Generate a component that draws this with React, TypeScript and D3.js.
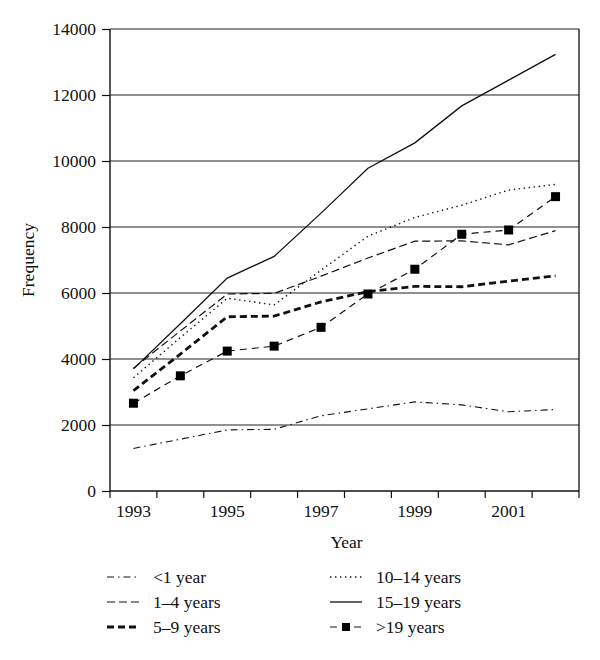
import * as d3 from 'd3';
import { useEffect, useRef } from 'react';

const years = [1993, 1994, 1995, 1996, 1997, 1998, 1999, 2000, 2001, 2002];
const yearLabels = [1993, 1995, 1997, 1999, 2001];
const yTicks = [0, 2000, 4000, 6000, 8000, 10000, 12000, 14000];

const seriesNames = ['<1 year', '1–4 years', '5–9 years', '10–14 years', '15–19 years', '>19 years'];

const lessThan1 = [1290, 1570, 1850, 1870, 2280, 2490, 2700, 2610, 2400, 2470];
const age1to4 = [3720, 4850, 5970, 5990, 6510, 7060, 7570, 7580, 7460, 7890];
const age5to9 = [3040, 4150, 5280, 5300, 5730, 6040, 6200, 6190, 6360, 6520];
const age10to14 = [3430, 4650, 5840, 5640, 6690, 7720, 8290, 8660, 9120, 9290];
const age15to19 = [3700, 5070, 6450, 7110, 8420, 9780, 10550, 11670, 12450, 13230];
const over19 = [2660, 3490, 4240, 4390, 4960, 5970, 6720, 7780, 7910, 8920];

const seriesValues = [lessThan1, age1to4, age5to9, age10to14, age15to19, over19];

// line look for each series, same order as seriesNames
const lineStyles = [
  { dash: '7,4,1.5,4', width: 1.1, marker: false },
  { dash: '8,4', width: 1.2, marker: false },
  { dash: '7,4', width: 2.8, marker: false },
  { dash: '1.4,3.6', width: 1.4, marker: false },
  { dash: null, width: 1.3, marker: false },
  { dash: '7,5', width: 1.2, marker: true },
];

const WIDTH = 600;
const HEIGHT = 660;
const FONT = '"Liberation Serif", "Times New Roman", serif';
const INK = '#111';

export default function App() {
  const svgRef = useRef<SVGSVGElement>(null);

  useEffect(() => {
    if (!svgRef.current) return;
    const svg = d3.select(svgRef.current);
    svg.selectAll('*').remove();

    const margin = { top: 29, right: 21, bottom: 169, left: 110 };
    const innerWidth = WIDTH - margin.left - margin.right;
    const innerHeight = HEIGHT - margin.top - margin.bottom;

    const g = svg.append('g').attr('transform', `translate(${margin.left},${margin.top})`);

    const xScale = d3.scaleBand<number>().domain(years).range([0, innerWidth]).padding(0);
    const xCenter = (yr: number) => (xScale(yr) ?? 0) + xScale.bandwidth() / 2;
    const yScale = d3.scaleLinear().domain([0, 14000]).range([innerHeight, 0]);

    // gridlines
    g.selectAll('.grid')
      .data(yTicks.filter(t => t > 0))
      .join('line')
      .attr('class', 'grid')
      .attr('x1', 0)
      .attr('x2', innerWidth)
      .attr('y1', d => yScale(d))
      .attr('y2', d => yScale(d))
      .attr('stroke', '#222')
      .attr('stroke-width', 1.2);

    // right border
    g.append('line')
      .attr('x1', innerWidth)
      .attr('x2', innerWidth)
      .attr('y1', 0)
      .attr('y2', innerHeight)
      .attr('stroke', INK)
      .attr('stroke-width', 1.3);

    // y axis
    const yAxis = g.append('g').call(
      d3.axisLeft(yScale).tickValues(yTicks).tickSize(8).tickPadding(6).tickFormat(d3.format('d'))
    );
    yAxis.select('.domain').attr('stroke', INK).attr('stroke-width', 1.4).attr('d', `M0,0V${innerHeight}`);
    yAxis.selectAll('.tick line').attr('stroke', INK).attr('stroke-width', 1.2);
    yAxis.selectAll('.tick text')
      .style('font-family', FONT)
      .style('font-size', '17.5px')
      .style('fill', INK);

    // x axis: labels on odd years, ticks at band edges
    const xAxis = g.append('g')
      .attr('transform', `translate(0,${innerHeight})`)
      .call(d3.axisBottom(xScale).tickValues(yearLabels).tickSize(0).tickPadding(14));
    xAxis.select('.domain').attr('stroke', INK).attr('stroke-width', 1.4).attr('d', `M0,0H${innerWidth}`);
    xAxis.selectAll('.tick text')
      .style('font-family', FONT)
      .style('font-size', '17.5px')
      .style('fill', INK);

    const edges = years.map(yr => xScale(yr) ?? 0).concat([innerWidth]);
    xAxis.selectAll('.edge')
      .data(edges)
      .join('line')
      .attr('class', 'edge')
      .attr('x1', d => d)
      .attr('x2', d => d)
      .attr('y1', 0)
      .attr('y2', 7)
      .attr('stroke', INK)
      .attr('stroke-width', 1.2);

    // axis titles
    g.append('text')
      .attr('x', innerWidth / 2 + 2)
      .attr('y', innerHeight + 57)
      .attr('text-anchor', 'middle')
      .style('font-family', FONT)
      .style('font-size', '17.5px')
      .style('fill', INK)
      .text('Year');

    g.append('text')
      .attr('transform', 'rotate(-90)')
      .attr('x', -innerHeight / 2)
      .attr('y', -margin.left + 34)
      .attr('text-anchor', 'middle')
      .style('font-family', FONT)
      .style('font-size', '17.5px')
      .style('fill', INK)
      .text('Frequency');

    // series lines
    const line = d3.line<number>()
      .x((_, i) => xCenter(years[i]))
      .y(d => yScale(d));

    seriesValues.forEach((vals, i) => {
      const st = lineStyles[i];
      g.append('path')
        .datum(vals)
        .attr('d', line)
        .attr('fill', 'none')
        .attr('stroke', INK)
        .attr('stroke-width', st.width)
        .attr('stroke-dasharray', st.dash ?? null);
      if (st.marker) {
        g.selectAll(`.mk-${i}`)
          .data(vals)
          .join('rect')
          .attr('class', `mk-${i}`)
          .attr('x', (_, j) => xCenter(years[j]) - 4.5)
          .attr('y', d => yScale(d) - 4.5)
          .attr('width', 9)
          .attr('height', 9)
          .attr('fill', '#000');
      }
    });

    // legend
    const legend = svg.append('g');
    const colX = [107, 330];
    const rowY = [583, 608, 633];
    seriesNames.forEach((name, i) => {
      const st = lineStyles[i];
      const x0 = colX[Math.floor(i / 3)];
      const yb = rowY[i % 3];
      const ly = yb - 6;
      legend.append('line')
        .attr('x1', x0)
        .attr('x2', x0 + 32)
        .attr('y1', ly)
        .attr('y2', ly)
        .attr('stroke', INK)
        .attr('stroke-width', st.width)
        .attr('stroke-dasharray', st.dash ?? null);
      if (st.marker) {
        legend.append('rect')
          .attr('x', x0 + 12)
          .attr('y', ly - 4)
          .attr('width', 8)
          .attr('height', 8)
          .attr('fill', '#000');
      }
      legend.append('text')
        .attr('x', x0 + 46)
        .attr('y', yb)
        .style('font-family', FONT)
        .style('font-size', '17.5px')
        .style('fill', INK)
        .text(name);
    });
  }, []);

  return (
    <div style={{ position: 'absolute', left: 0, top: 0, width: WIDTH, height: HEIGHT, background: '#fff' }}>
      <svg ref={svgRef} width={WIDTH} height={HEIGHT} />
    </div>
  );
}
